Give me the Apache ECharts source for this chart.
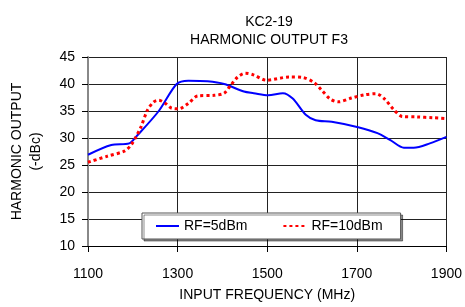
<!DOCTYPE html>
<html>
<head>
<meta charset="utf-8">
<script src="https://cdn.jsdelivr.net/npm/echarts@6/dist/echarts.min.js"></script>
<style>
  html, body { margin: 0; padding: 0; background: #fff; }
  #chart { width: 465px; height: 307px; }
</style>
</head>
<body>
<div id="chart"></div>
<script>
// RF=5dBm
const freq5 = [1100, 1152, 1192, 1207, 1258, 1298, 1324, 1367, 1404, 1448, 1470, 1502, 1535, 1557, 1586, 1608, 1644, 1703, 1746, 1775, 1805, 1827, 1863, 1900]
const rf5 = [26.9, 28.7, 29.0, 30.2, 35.0, 40.0, 40.6, 40.5, 40.0, 38.6, 38.3, 37.9, 38.3, 37.3, 34.3, 33.3, 33.0, 32.0, 30.9, 29.6, 28.2, 28.2, 29.0, 30.2]
// RF=10dBm
const freq10 = [1100, 1142, 1182, 1196, 1207, 1218, 1233, 1247, 1258, 1273, 1287, 1302, 1324, 1345, 1382, 1404, 1418, 1433, 1451, 1469, 1498, 1550, 1579, 1604, 1622, 1641, 1659, 1688, 1717, 1743, 1761, 1783, 1801, 1834, 1870, 1900]
const rf10 = [25.5, 26.6, 27.6, 28.7, 30.2, 32.0, 35.2, 36.7, 37.0, 36.4, 35.5, 35.4, 36.4, 37.8, 37.9, 38.3, 39.7, 41.2, 42.0, 41.7, 40.7, 41.3, 41.2, 40.3, 38.8, 37.2, 36.7, 37.4, 38.0, 38.2, 37.3, 35.2, 34.0, 33.9, 33.75, 33.6]
const seriesNames = ['RF=5dBm', 'RF=10dBm']

const font = 'Liberation Sans, Arial, sans-serif'
const pairs = (xs, ys) => xs.map((x, i) => [x, ys[i]])

const myChart = echarts.init(document.getElementById('chart'))
myChart.setOption({
  animation: false,
  textStyle: { fontFamily: font },
  title: {
    text: 'KC2-19\nHARMONIC OUTPUT F3',
    left: 264,
    textAlign: 'center',
    top: 8,
    textStyle: { fontSize: 14, fontWeight: 'normal', color: '#000', lineHeight: 18, fontFamily: font }
  },
  grid: { left: 81, right: 18, top: 57, bottom: 54 },
  legend: {
    left: 142,
    top: 213,
    padding: [6, 18, 6, 13],
    itemWidth: 23,
    itemHeight: 12,
    itemGap: 35,
    backgroundColor: '#fff',
    borderColor: '#555',
    borderWidth: 1,
    shadowColor: 'rgba(0,0,0,0.45)',
    shadowOffsetX: 2,
    shadowOffsetY: 2,
    itemStyle: { opacity: 0 },
    textStyle: { fontSize: 14, color: '#000', fontFamily: font },
    data: seriesNames
  },
  xAxis: {
    type: 'value',
    min: 1100,
    max: 1900,
    interval: 200,
    name: 'INPUT FREQUENCY (MHz)',
    nameLocation: 'middle',
    nameGap: 42,
    nameTextStyle: { fontSize: 14, color: '#000', fontFamily: font },
    axisLine: { show: true, lineStyle: { color: '#000', width: 1 } },
    axisTick: { show: true, length: 6, lineStyle: { color: '#000' } },
    axisLabel: { fontSize: 14, color: '#000', margin: 21, formatter: v => String(v) },
    splitLine: { show: true, showMinLine: false, lineStyle: { color: '#222', width: 1 } }
  },
  yAxis: {
    type: 'value',
    min: 10,
    max: 45,
    interval: 5,
    name: 'HARMONIC OUTPUT\n(-dBc)',
    nameLocation: 'middle',
    nameRotate: 90,
    nameGap: 42,
    nameTextStyle: { fontSize: 14, color: '#000', lineHeight: 19, fontFamily: font },
    axisLine: { show: true, lineStyle: { color: '#888', width: 2 } },
    axisTick: { show: true, length: 6, lineStyle: { color: '#000' } },
    axisLabel: { fontSize: 14, color: '#000', margin: 13 },
    splitLine: { show: true, lineStyle: { color: '#222', width: 1 } }
  },
  series: [
    {
      name: seriesNames[0],
      type: 'line',
      smooth: 0.3,
      symbol: 'none',
      lineStyle: { color: '#0000ff', width: 2 },
      itemStyle: { color: '#0000ff' },
      data: pairs(freq5, rf5)
    },
    {
      name: seriesNames[1],
      type: 'line',
      smooth: 0.3,
      symbol: 'none',
      lineStyle: { color: '#ff0000', width: 3, type: [3, 3] },
      itemStyle: { color: '#ff0000' },
      data: pairs(freq10, rf10)
    }
  ]
})
</script>
</body>
</html>
